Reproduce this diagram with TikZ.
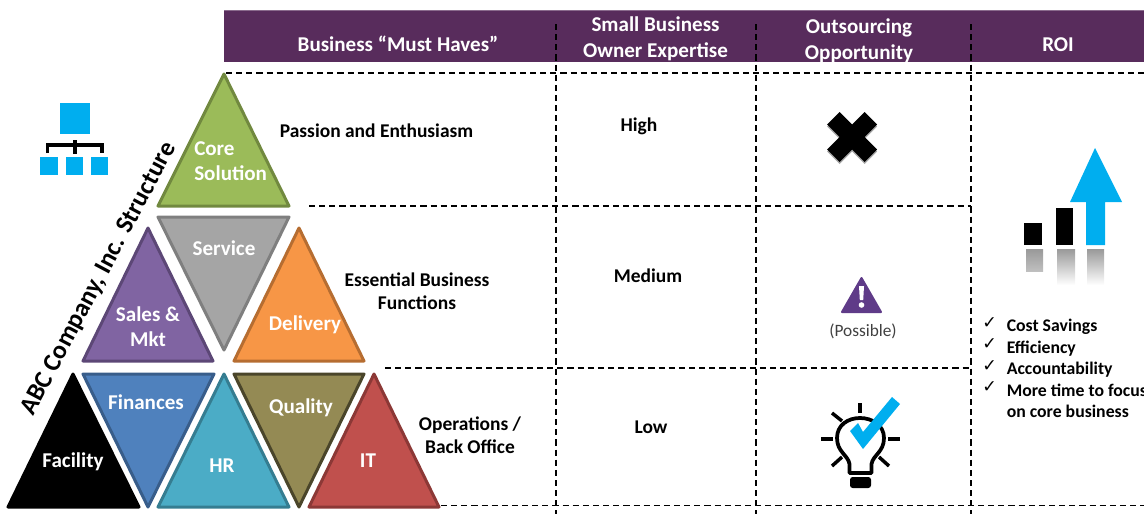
\documentclass[tikz,border=0pt]{standalone}
\usepackage{fontspec}
\setmainfont{Carlito}
\newfontfamily\symfont{DejaVu Sans}
\definecolor{hdr}{HTML}{582C5C}
\definecolor{iconblue}{HTML}{00AEEF}
\definecolor{warnpurple}{HTML}{5F3B88}
\definecolor{coreF}{HTML}{9BBB59}\definecolor{coreD}{HTML}{71893F}
\definecolor{servF}{HTML}{A5A5A5}\definecolor{servD}{HTML}{7F7F7F}
\definecolor{salesF}{HTML}{8064A2}\definecolor{salesD}{HTML}{5C4776}
\definecolor{delivF}{HTML}{F79646}\definecolor{delivD}{HTML}{B66D31}
\definecolor{finF}{HTML}{4F81BD}\definecolor{finD}{HTML}{385D8A}
\definecolor{hrF}{HTML}{4BACC6}\definecolor{hrD}{HTML}{357D91}
\definecolor{qualF}{HTML}{948A54}\definecolor{qualD}{HTML}{4A452A}
\definecolor{itF}{HTML}{C0504D}\definecolor{itD}{HTML}{8C3836}
\tikzset{
  x=0.75pt,y=-0.75pt,
  tri/.style={line width=2.25pt,line join=round},
  grid line/.style={black,line width=1pt,dash pattern=on 4.6pt off 3pt},
  tlabel/.style={font=\fontsize{15.8}{19}\selectfont\bfseries,text=white,align=center,inner sep=0pt},
  blabel/.style={font=\fontsize{14.6}{17.3}\selectfont\bfseries,text=black,align=center,inner sep=0pt},
  hlabel/.style={font=\fontsize{15.8}{19.5}\selectfont\bfseries,text=white,align=center,inner sep=0pt},
  ray/.style={black,line width=2.6pt},
}
\newcommand{\tri}[5]{\draw[tri,fill=#1,draw=#2] #3 -- #4 -- #5 -- cycle;}
\begin{document}
\begin{tikzpicture}
\useasboundingbox (0,0) rectangle (1144,514);
% header band
\fill[hdr] (224,10) rectangle (1144,62);
\draw[hdr!70!white,line width=0.6pt] (224,10) -- (1144,10);
% grid
\coordinate (v1t) at (556,24); \coordinate (v1b) at (556,514);
\coordinate (v2t) at (756,24); \coordinate (v2b) at (756,514);
\coordinate (v3t) at (971,24); \coordinate (v3b) at (971,514);
\coordinate (h1l) at (226,73); \coordinate (h1r) at (1144,73);
\coordinate (h2l) at (309,206); \coordinate (h2r) at (971,206);
\coordinate (h3l) at (385,368); \coordinate (h3r) at (971,368);
\coordinate (h4l) at (441,505.5); \coordinate (h4r) at (1144,505.5);
\foreach \a/\b in {v1t/v1b,v2t/v2b,v3t/v3b,h1l/h1r,h2l/h2r,h3l/h3r,h4l/h4r}
  \draw[grid line] (\a) -- (\b);
% triangles
\tri{coreF}{coreD}{(224,74)}{(158,206)}{(289,206)}
\tri{servF}{servD}{(158,217)}{(289,217)}{(224,350)}
\tri{salesF}{salesD}{(148,228)}{(83,361)}{(213,361)}
\tri{delivF}{delivD}{(299,228)}{(234,361)}{(364,361)}
\tri{black}{black}{(73,374)}{(8,507)}{(139,507)}
\tri{finF}{finD}{(83,374)}{(214,374)}{(148,507)}
\tri{hrF}{hrD}{(224,374)}{(158,507)}{(289,507)}
\tri{qualF}{qualD}{(234,374)}{(364,374)}{(299,507)}
\tri{itF}{itD}{(374,374)}{(309,507)}{(439,507)}
% triangle labels
\node[tlabel,align=left,anchor=west] (core) at (194,161) {Core\\Solution};
\node[tlabel] (service) at (224,248) {Service};
\node[tlabel] (sales) at (148,326.5) {Sales \&\\Mkt};
\node[tlabel] (delivery) at (305,325) {Delivery};
\node[tlabel] (facility) at (73,461.5) {Facility};
\node[tlabel] (finances) at (146,402.5) {Finances};
\node[tlabel] (hr) at (222,465.5) {HR};
\node[tlabel] (quality) at (301,407.5) {Quality};
\node[tlabel] (it) at (368,460.5) {IT};
% rotated title
\node[inner sep=0pt,rotate=62,font=\fontsize{19.2}{22}\selectfont\bfseries] (title) at (99,279) {ABC Company, Inc. Structure};
% column text
\node[blabel] (passion) at (376.5,131) {Passion and Enthusiasm};
\node[blabel] (essential) at (417,291.5) {Essential Business\\Functions};
\node[blabel] (ops) at (470,435) {Operations /\\Back Office};
\node[blabel] (high) at (639,126) {High};
\node[blabel] (medium) at (648,276) {Medium};
\node[blabel] (low) at (651,427) {Low};
% header labels
\node[hlabel] (h1) at (398,44) {Business “Must Haves”};
\node[hlabel] (h2) at (655.5,38.5) {Small Business\\Owner Expertise};
\node[hlabel] (h3) at (859,40.5) {Outsourcing\\Opportunity};
\node[hlabel] (h4) at (1058,45) {ROI};
% org chart icon
\fill[iconblue] (60,103) rectangle (90,134);
\fill[iconblue] (40,157) rectangle (58,175);
\fill[iconblue] (66,157) rectangle (83,175);
\fill[iconblue] (91,157) rectangle (108,175);
\draw[black,line width=2.8pt] (47.5,153) -- (47.5,145) -- (102,145) -- (102,153);
\draw[black,line width=2.4pt] (75,140) -- (75,154);
% X mark
\begin{scope}[shift={(852,137)}]
\fill[black!35] (-12.5,-23) -- (0,-10.5) -- (12.5,-23) -- (25,-10.5) -- (12.5,2) -- (25,14.5) -- (12.5,27) -- (0,14.5) -- (-12.5,27) -- (-25,14.5) -- (-12.5,2) -- (-25,-10.5) -- cycle;
\fill[black] (-12.5,-25) -- (0,-12.5) -- (12.5,-25) -- (25,-12.5) -- (12.5,0) -- (25,12.5) -- (12.5,25) -- (0,12.5) -- (-12.5,25) -- (-25,12.5) -- (-12.5,0) -- (-25,-12.5) -- cycle;
\end{scope}
% warning icon
\draw[warnpurple,fill=warnpurple,line width=1.5pt,line join=round] (861.5,278) -- (842,312) -- (881,312) -- cycle;
\fill[white] (859,286) -- (864,286) -- (863.2,300) -- (859.8,300) -- cycle;
\fill[white] (861.5,305) circle (2.8);
\node[inner sep=0pt,text=black!75,font=\fontsize{13}{15}\selectfont] (possible) at (863,331.5) {(Possible)};
% ROI chart
\fill[black] (1024,223) rectangle (1042,245);
\fill[black] (1056,208) rectangle (1073,245);
\fill[iconblue] (1095,148) -- (1122,202) -- (1105,202) -- (1105,245) -- (1086,245) -- (1086,202) -- (1070,202) -- cycle;
\shade[top color=black!40,bottom color=black!25] (1026,249) rectangle (1043,271);
\shade[top color=black!40,bottom color=white] (1057,249) rectangle (1075,285);
\shade[top color=black!40,bottom color=white] (1087,249) rectangle (1104,285);
% checklist
\node[anchor=north west,inner sep=0pt,align=left,font=\fontsize{13.3}{16.1}\selectfont\bfseries] (benefits) at (1006.5,319)
 {Cost Savings\\Efficiency\\Accountability\\More time to focus\\on core business};
\node[anchor=north west,inner sep=0pt,align=left,font=\symfont\fontsize{13}{16.1}\selectfont] (checks) at (982,317)
 {✓\\✓\\✓\\✓};
% light bulb
\draw[black,line width=2.8pt,line join=round,fill=white]
  (849.5,473) -- (849.5,464) .. controls (848,455) and (837,452) .. (837,438)
  .. controls (837,425) and (848,418) .. (860,418)
  .. controls (872,418) and (884,425) .. (884,438)
  .. controls (884,452) and (873,455) .. (871.5,464) -- (871.5,473) -- cycle;
\fill[black,rounded corners=2pt] (850,477) rectangle (871,488);
\draw[ray] (860,403) -- (860,413);
\draw[ray] (821,439) -- (833,439);
\draw[ray] (888,439) -- (900,439);
\draw[ray] (832,413) -- (842,421);
\draw[ray] (832,466) -- (842,457);
\draw[ray] (879,457) -- (889,466);
\fill[iconblue] (850,431) -- (858,423) -- (863,432) -- (892,397) -- (900,404) -- (863,449) -- cycle;
\end{tikzpicture}
\end{document}
